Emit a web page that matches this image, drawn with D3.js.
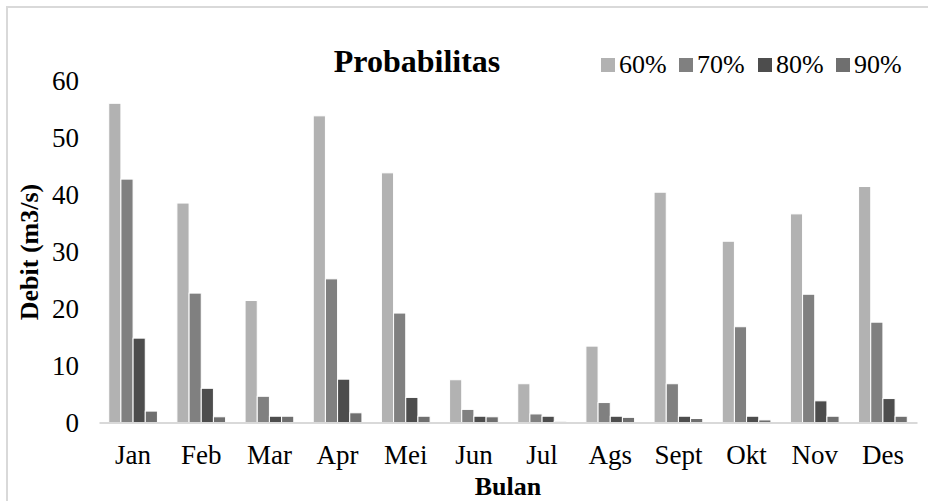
<!DOCTYPE html>
<html>
<head>
<meta charset="utf-8">
<script src="https://cdn.jsdelivr.net/npm/d3@7"></script>
<style>
  body { margin: 0; background: #fff; }
  svg { display: block; }
</style>
</head>
<body>
<svg id="chart"></svg>
<script>
let months = ['Jan', 'Feb', 'Mar', 'Apr', 'Mei', 'Jun', 'Jul', 'Ags', 'Sept', 'Okt', 'Nov', 'Des']
let series = ['60%', '70%', '80%', '90%']
let p60 = [56.0, 38.5, 21.4, 53.8, 43.8, 7.5, 6.8, 13.4, 40.4, 31.8, 36.6, 41.4]
let p70 = [42.7, 22.7, 4.6, 25.2, 19.2, 2.3, 1.5, 3.5, 6.8, 16.8, 22.5, 17.6]
let p80 = [14.8, 6.0, 1.1, 7.6, 4.4, 1.1, 1.1, 1.1, 1.1, 1.1, 3.8, 4.2]
let p90 = [2.0, 1.0, 1.1, 1.7, 1.1, 1.0, 0.2, 0.9, 0.7, 0.45, 1.1, 1.1]
let yTicks = [0, 10, 20, 30, 40, 50, 60]

let colors = ['#b2b2b2', '#808080', '#4d4d4d', '#6f6f6f']

let serif = "'Liberation Serif', 'Times New Roman', serif"

let width = 928
let height = 501
let plotLeft = 99
let plotRight = 917
let plotTop = 80.5
let plotBottom = 422.5

let svg = d3.select('#chart')
            .attr('width', width)
            .attr('height', height)

// outer chart border
svg.append('rect')
   .attr('x', 7)
   .attr('y', 7)
   .attr('width', width)
   .attr('height', height)
   .attr('fill', 'none')
   .attr('stroke', '#d9d9d9')
   .attr('stroke-width', 2)

let rows = months.map((m, i) => ({month: m, values: [p60[i], p70[i], p80[i], p90[i]]}))

let x0 = d3.scaleBand()
           .domain(months)
           .range([plotLeft, plotRight])

let groupWidth = x0.bandwidth() / 1.4

let x1 = d3.scaleBand()
           .domain(series)
           .range([0, groupWidth])

let y = d3.scaleLinear()
          .domain([0, 60])
          .range([plotBottom, plotTop])

let groups = svg.append('g')
                .selectAll('g')
                .data(rows)
                .enter()
                .append('g')
                .attr('transform', (d) => 'translate(' + (x0(d.month) + (x0.bandwidth() - groupWidth) / 2) + ',0)')

groups.selectAll('rect')
      .data((d) => d.values.map((v, j) => ({key: series[j], value: v, color: colors[j]})))
      .enter()
      .append('rect')
      .attr('x', (d) => x1(d.key))
      .attr('y', (d) => y(d.value))
      .attr('width', x1.bandwidth())
      .attr('height', (d) => plotBottom - y(d.value))
      .attr('fill', (d) => d.color)
      .attr('stroke', '#fff')
      .attr('stroke-width', 1)

// x axis
let xAxis = d3.axisBottom(x0).tickSize(0).tickPadding(22)
let gx = svg.append('g')
            .attr('transform', 'translate(0,' + plotBottom + ')')
            .call(xAxis)
gx.select('.domain').attr('stroke', '#d9d9d9').attr('stroke-width', 2)
gx.selectAll('text')
  .attr('font-family', serif)
  .attr('font-size', 27)
  .attr('fill', '#000')

// y axis
let yAxis = d3.axisLeft(y).tickValues(yTicks).tickSize(0).tickPadding(20)
let gy = svg.append('g')
            .attr('transform', 'translate(' + plotLeft + ',0)')
            .call(yAxis)
gy.select('.domain').remove()
gy.selectAll('text')
  .attr('font-family', serif)
  .attr('font-size', 27)
  .attr('fill', '#000')

// title
svg.append('text')
   .text('Probabilitas')
   .attr('x', 417)
   .attr('y', 72)
   .attr('text-anchor', 'middle')
   .attr('font-family', serif)
   .attr('font-size', 32)
   .attr('font-weight', 'bold')

// axis titles
svg.append('text')
   .text('Bulan')
   .attr('x', 508)
   .attr('y', 495)
   .attr('text-anchor', 'middle')
   .attr('font-family', serif)
   .attr('font-size', 26)
   .attr('font-weight', 'bold')

svg.append('text')
   .text('Debit (m3/s)')
   .attr('transform', 'translate(38,252) rotate(-90)')
   .attr('text-anchor', 'middle')
   .attr('font-family', serif)
   .attr('font-size', 26)
   .attr('font-weight', 'bold')

// legend
let legendX = [601, 679, 758, 836]
let legend = svg.append('g')
                .selectAll('g')
                .data(series)
                .enter()
                .append('g')
                .attr('transform', (d, i) => 'translate(' + legendX[i] + ',58)')

legend.append('rect')
      .attr('width', 14)
      .attr('height', 14)
      .attr('fill', (d, i) => colors[i])

legend.append('text')
      .text((d) => d)
      .attr('x', 18)
      .attr('y', 15)
      .attr('font-family', serif)
      .attr('font-size', 26)
</script>
</body>
</html>
